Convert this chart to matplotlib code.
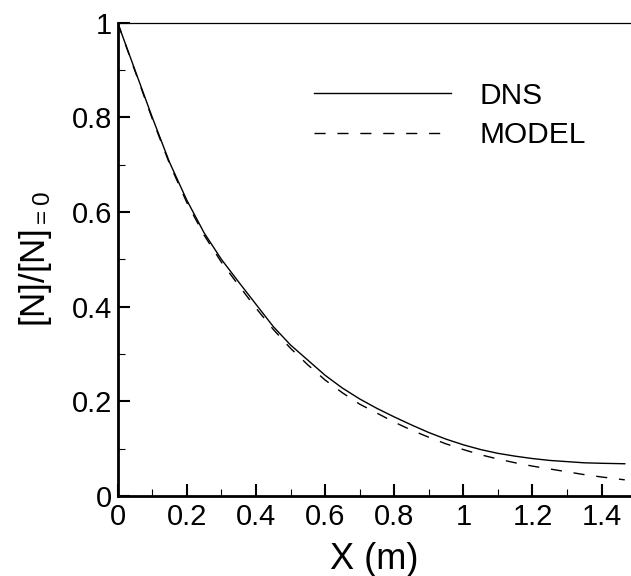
import matplotlib
matplotlib.use("Agg")
import matplotlib.pyplot as plt
from matplotlib.ticker import MultipleLocator

# values
x_dns = [0.0, 0.05, 0.10, 0.15, 0.20, 0.25, 0.30, 0.35, 0.40, 0.45, 0.50,
         0.55, 0.60, 0.65, 0.70, 0.75, 0.80, 0.85, 0.90, 0.95, 1.00,
         1.05, 1.10, 1.15, 1.20, 1.25, 1.30, 1.35, 1.40, 1.467]
y_dns = [1.0, 0.900, 0.800, 0.705, 0.625, 0.556, 0.500, 0.452, 0.405, 0.358, 0.319,
         0.287, 0.255, 0.228, 0.205, 0.185, 0.167, 0.150, 0.134, 0.120, 0.108,
         0.098, 0.090, 0.084, 0.079, 0.075, 0.0725, 0.070, 0.069, 0.068]

x_model = x_dns
y_model = [1.0, 0.898, 0.797, 0.702, 0.620, 0.551, 0.494, 0.445, 0.397, 0.352, 0.312,
           0.277, 0.245, 0.218, 0.194, 0.175, 0.156, 0.139, 0.124, 0.110, 0.098,
           0.087, 0.078, 0.070, 0.063, 0.057, 0.051, 0.045, 0.040, 0.034]

x_ticks = [0, 0.2, 0.4, 0.6, 0.8, 1, 1.2, 1.4]
x_tick_labels = ['0', '0.2', '0.4', '0.6', '0.8', '1', '1.2', '1.4']
y_ticks = [0, 0.2, 0.4, 0.6, 0.8, 1]
y_tick_labels = ['0', '0.2', '0.4', '0.6', '0.8', '1']

plt.rcParams['font.family'] = ['Liberation Sans', 'DejaVu Sans']
plt.rcParams['mathtext.fontset'] = 'custom'
plt.rcParams['mathtext.rm'] = 'Liberation Sans'
plt.rcParams['mathtext.it'] = 'Liberation Sans:italic'

fig = plt.figure(figsize=(6.31, 5.76), dpi=100)
ax = fig.add_axes([0.1865, 0.139, 0.8135, 0.8216])

ax.plot(x_dns, y_dns, color='black', lw=1.0, label='DNS')
ax.plot(x_model, y_model, color='black', lw=1.0, linestyle=(0, (8, 8.5)), label='MODEL')

ax.set_xlim(0, 1.485)
ax.set_ylim(0, 1)
ax.set_xticks(x_ticks, x_tick_labels)
ax.set_yticks(y_ticks, y_tick_labels)
ax.xaxis.set_minor_locator(MultipleLocator(0.1))
ax.yaxis.set_minor_locator(MultipleLocator(0.1))

ax.tick_params(which='both', direction='in', top=False, right=False, labelsize=21)
ax.tick_params(which='major', length=8.5, width=1.5)
ax.tick_params(which='minor', length=4.8, width=0.8)
ax.tick_params(axis='y', pad=4)
ax.tick_params(axis='x', pad=5)

for side in ['left', 'bottom']:
    ax.spines[side].set_linewidth(2)
ax.spines['top'].set_linewidth(0.9)
ax.spines['right'].set_visible(False)

ax.set_xlabel('X (m)', fontsize=26, labelpad=8)
ax.set_ylabel(r'[N]/[N]$_{\mathrm{=0}}$', fontsize=25)
ax.yaxis.set_label_coords(-0.124, 0.5)

ax.legend(loc='upper left', bbox_to_anchor=(0.382, 0.875), frameon=False,
          fontsize=21.5, handlelength=4.6, handletextpad=0.95, labelspacing=0.38,
          borderpad=0, borderaxespad=0)

fig.savefig('out.png', dpi=100)
